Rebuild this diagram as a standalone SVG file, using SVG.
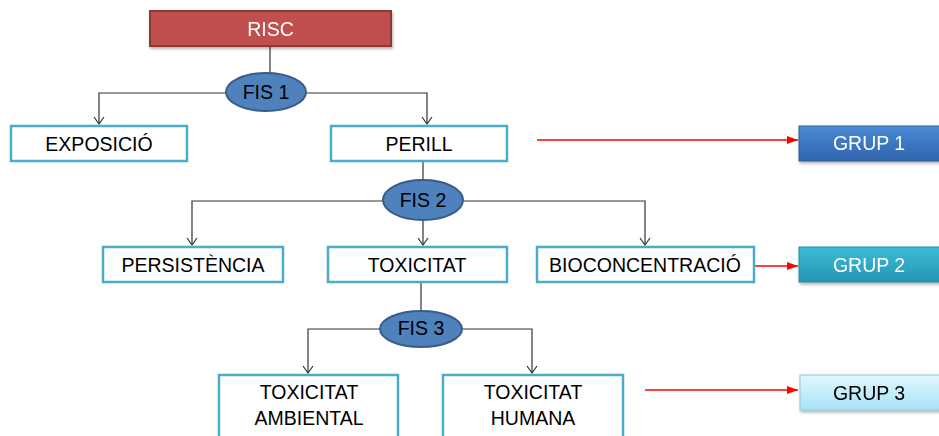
<svg xmlns="http://www.w3.org/2000/svg" width="939" height="436" viewBox="0 0 939 436">
<style>
.box{fill:#fff;stroke:#4bacc6;stroke-width:2.5}
.t{font-family:"Liberation Sans",Arial,sans-serif;font-size:19.5px;fill:#000;text-anchor:middle;dominant-baseline:central}
.w{fill:#fff}
.ell{fill:#4f81bd;stroke:#385d8a;stroke-width:2}
.c{fill:none;stroke:#333;stroke-width:1.2}
.r{fill:none;stroke:#ff0000;stroke-width:1.3}
</style>
<defs>
<marker id="ah" markerWidth="12" markerHeight="12" refX="10" refY="6" orient="auto" markerUnits="userSpaceOnUse" viewBox="0 0 12 12">
<path d="M3,1 L10,6 L3,11" fill="none" stroke="#333" stroke-width="1.2"/>
</marker>
<marker id="rh" markerWidth="12" markerHeight="10" refX="11" refY="5" orient="auto" markerUnits="userSpaceOnUse" viewBox="0 0 12 10">
<path d="M0,1 L11,5 L0,9 Z" fill="#ff0000"/>
</marker>
<linearGradient id="g1" x1="0" y1="0" x2="0" y2="1"><stop offset="0" stop-color="#4a8ad6"/><stop offset="1" stop-color="#2f64ad"/></linearGradient>
<linearGradient id="g2" x1="0" y1="0" x2="0" y2="1"><stop offset="0" stop-color="#3bbbd8"/><stop offset="1" stop-color="#2596b4"/></linearGradient>
<linearGradient id="g3" x1="0" y1="0" x2="0" y2="1"><stop offset="0" stop-color="#e4f7fd"/><stop offset="1" stop-color="#a6e3f6"/></linearGradient>
<filter id="sh" x="-10%" y="-20%" width="130%" height="160%"><feDropShadow dx="1" dy="2" stdDeviation="1.5" flood-color="#000" flood-opacity="0.3"/></filter>
</defs>

<g id="connectors">
<line class="c" x1="270" y1="46" x2="270" y2="75"/>
<path class="c" d="M226,93 H99 V124" marker-end="url(#ah)"/>
<path class="c" d="M306,93 H427 V124" marker-end="url(#ah)"/>
<line class="c" x1="423" y1="162" x2="423" y2="181"/>
<path class="c" d="M383,201 H192 V245" marker-end="url(#ah)"/>
<path class="c" d="M423,221 V245" marker-end="url(#ah)"/>
<path class="c" d="M463,201 H645 V245" marker-end="url(#ah)"/>
<line class="c" x1="421" y1="283" x2="421" y2="310"/>
<path class="c" d="M380,329 H308 V373" marker-end="url(#ah)"/>
<path class="c" d="M462,329 H532 V373" marker-end="url(#ah)"/>
<line class="r" x1="537" y1="140" x2="798" y2="140" marker-end="url(#rh)"/>
<line class="r" x1="755" y1="266" x2="798" y2="266" marker-end="url(#rh)"/>
<line class="r" x1="645" y1="390" x2="798" y2="390" marker-end="url(#rh)"/>
</g>

<g id="risc" filter="url(#sh)">
<rect x="150" y="11" width="241" height="35" fill="#c0504d" stroke="#8c3836" stroke-width="2"/>
<text class="t w" x="270.5" y="29">RISC</text>
</g>
<g id="fis1">
<ellipse class="ell" cx="266" cy="92" rx="40" ry="19"/>
<text class="t" x="266" y="92">FIS 1</text>
</g>
<g id="exposicio">
<rect class="box" x="11" y="126" width="176" height="35"/>
<text class="t" x="99" y="144">EXPOSICIÓ</text>
</g>
<g id="perill">
<rect class="box" x="331" y="126" width="176" height="35"/>
<text class="t" x="419" y="144">PERILL</text>
</g>
<g id="grup1" filter="url(#sh)">
<rect x="799" y="126" width="145" height="35" fill="url(#g1)" stroke="#2c5d9c" stroke-width="1"/>
<text class="t w" x="869" y="143">GRUP 1</text>
</g>
<g id="fis2">
<ellipse class="ell" cx="423" cy="200" rx="40" ry="20"/>
<text class="t" x="423" y="200">FIS 2</text>
</g>
<g id="persistencia">
<rect class="box" x="103" y="247" width="180" height="35"/>
<text class="t" x="193" y="265">PERSISTÈNCIA</text>
</g>
<g id="toxicitat">
<rect class="box" x="328" y="247" width="179" height="35"/>
<text class="t" x="417" y="265">TOXICITAT</text>
</g>
<g id="bioconcentracio">
<rect class="box" x="537" y="247" width="217" height="35"/>
<text class="t" x="645" y="265">BIOCONCENTRACIÓ</text>
</g>
<g id="grup2" filter="url(#sh)">
<rect x="799" y="247" width="145" height="35" fill="url(#g2)" stroke="#2a8ca6" stroke-width="1"/>
<text class="t w" x="869" y="265">GRUP 2</text>
</g>
<g id="fis3">
<ellipse class="ell" cx="421" cy="329" rx="41" ry="18"/>
<text class="t" x="421" y="328">FIS 3</text>
</g>
<g id="toxicitat-ambiental">
<rect class="box" x="219" y="375" width="179" height="66"/>
<text class="t" x="309" y="392">TOXICITAT</text>
<text class="t" x="309" y="418">AMBIENTAL</text>
</g>
<g id="toxicitat-humana">
<rect class="box" x="443" y="375" width="180" height="66"/>
<text class="t" x="533" y="392">TOXICITAT</text>
<text class="t" x="533" y="418">HUMANA</text>
</g>
<g id="grup3" filter="url(#sh)">
<rect x="800" y="375" width="145" height="35" fill="url(#g3)" stroke="#8cc8d8" stroke-width="1"/>
<text class="t" x="869" y="393">GRUP 3</text>
</g>
</svg>
